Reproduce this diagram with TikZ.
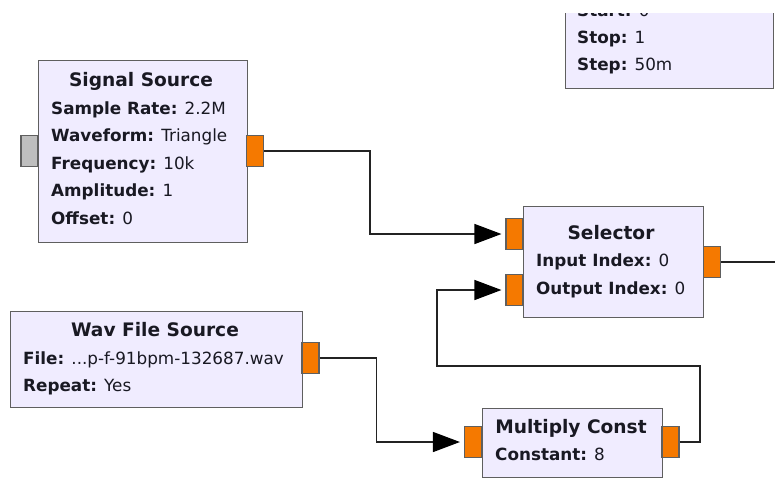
\documentclass[tikz,border=0pt]{standalone}
\usepackage{fontspec}
\setmainfont{DejaVu Sans}
\usetikzlibrary{arrows.meta}
\definecolor{blockfill}{RGB}{240,236,255}
\definecolor{blockborder}{RGB}{95,95,95}
\definecolor{portorange}{RGB}{245,121,0}
\definecolor{portgray}{RGB}{190,190,190}
\definecolor{wire}{RGB}{35,35,35}
\definecolor{txt}{RGB}{25,25,35}
\tikzset{
  block/.style={draw=blockborder, fill=blockfill, line width=1.3pt, inner sep=0pt, anchor=north west},
  port/.style={draw=blockborder, fill=portorange, line width=1.1pt, inner sep=0pt, minimum width=17pt, minimum height=31pt},
  gport/.style={port, fill=portgray},
  title/.style={anchor=base, inner sep=0pt, text=txt, font=\fontsize{18.6}{22}\selectfont\bfseries},
  param/.style={anchor=base west, inner sep=0pt, text=txt, font=\fontsize{16.8}{20}\selectfont},
  conn/.style={draw=wire, line width=1.3pt},
  arrowed/.style={conn, -{Triangle[length=27pt,width=20pt,fill=black,color=black]}, shorten >=4pt}
}
\begin{document}
\begin{tikzpicture}[x=1pt,y=-1pt]
\useasboundingbox (0,0) rectangle (775,483);
\fill[white] (0,0) rectangle (775,483);

% partly hidden block at the top right
\begin{scope}
\clip (0,13) rectangle (775,483);
\node[block, minimum width=208pt, minimum height=100pt] (rng) at (565,-12) {};
\node[param] (rstart) at (577,16) {\textbf{Start:} 0};
\node[param] (rstop) at (577,43) {\textbf{Stop:} 1};
\node[param] (rstep) at (577,70.5) {\textbf{Step:} 50m};
\end{scope}

% Signal Source
\node[block, minimum width=209pt, minimum height=182pt] (ss) at (38,60) {};
\node[gport] (ssin) at (29.5,151) {};
\node[port] (ssout) at (255,151) {};
\node[title] (sst) at (141,86) {Signal Source};
\node[param] (ss1) at (51,114) {\textbf{Sample Rate:} 2.2M};
\node[param] (ss2) at (51,141.5) {\textbf{Waveform:} Triangle};
\node[param] (ss3) at (51,169) {\textbf{Frequency:} 10k};
\node[param] (ss4) at (51,196.5) {\textbf{Amplitude:} 1};
\node[param] (ss5) at (51,224) {\textbf{Offset:} 0};

% Selector
\node[block, minimum width=180pt, minimum height=111pt] (sel) at (523,206) {};
\node[port] (selin1) at (514.5,234) {};
\node[port] (selin2) at (514.5,290) {};
\node[port] (selout) at (712,262) {};
\node[title] (selt) at (611,239) {Selector};
\node[param] (sel1) at (536,266.5) {\textbf{Input Index:} 0};
\node[param] (sel2) at (536,294) {\textbf{Output Index:} 0};

% Wav File Source
\node[block, minimum width=292pt, minimum height=96pt] (wav) at (10,311) {};
\node[port] (wavout) at (310.5,358) {};
\node[title] (wavt) at (155,336) {Wav File Source};
\node[param] (wav1) at (23,364) {\textbf{File:} ...p-f-91bpm-132687.wav};
\node[param] (wav2) at (23,391) {\textbf{Repeat:} Yes};

% Multiply Const
\node[block, minimum width=180pt, minimum height=69pt] (mc) at (482,408) {};
\node[port] (mcin) at (473,442) {};
\node[port] (mcout) at (670.5,442) {};
\node[title] (mct) at (571,433) {Multiply Const};
\node[param] (mc1) at (495,460.5) {\textbf{Constant:} 8};

% connectors
\coordinate (selend) at (780,262);
\coordinate (fb1) at (700,366);
\coordinate (fb2) at (437,366);
\draw[arrowed] (ssout.east) -- ([xshift=106pt]ssout.east) |- (selin1.west);
\draw[conn] (selout.east) -- (selend);
\draw[arrowed] (wavout.east) -- ([xshift=57pt]wavout.east) |- (mcin.west);
\draw[arrowed] (mcout.east) -| (fb1) -- (fb2) |- (selin2.west);
\end{tikzpicture}
\end{document}
